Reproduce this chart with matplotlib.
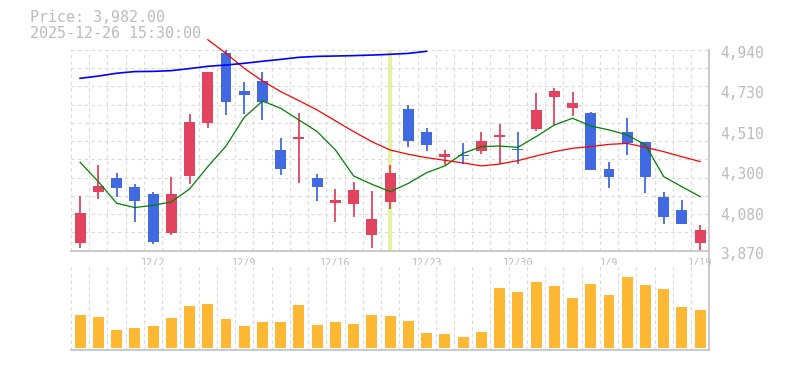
import matplotlib
matplotlib.use("Agg")
import matplotlib.pyplot as plt
import matplotlib.transforms as mtransforms
from matplotlib.lines import Line2D
import numpy as np

# daily candles (trading days 11/26 .. 1/19)
dates = ['11/26', '11/27', '11/28', '12/1', '12/2', '12/3', '12/4', '12/5', '12/8',
         '12/9', '12/10', '12/11', '12/12', '12/15', '12/16', '12/17', '12/18',
         '12/19', '12/22', '12/23', '12/24', '12/25', '12/26', '12/29', '12/30',
         '1/5', '1/6', '1/7', '1/8', '1/9', '1/13', '1/14', '1/15', '1/16', '1/19']
label_idx = [4, 9, 14, 19, 24, 29, 34]

opens = [3913, 4185, 4259, 4211, 4172, 3966, 4270, 4553, 4924, 4721, 4775, 4407,
         4466, 4258, 4126, 4121, 3956, 4132, 4626, 4503, 4371, 4380, 4403, 4476,
         4410, 4519, 4691, 4633, 4604, 4306, 4503, 4450, 4156, 4087, 3913]
highs = [4163, 4327, 4284, 4226, 4183, 4265, 4599, 4823, 4940, 4769, 4823, 4471,
         4604, 4279, 4199, 4236, 4188, 4327, 4649, 4524, 4407, 4442, 4503, 4546,
         4503, 4713, 4739, 4716, 4610, 4343, 4578, 4450, 4183, 4140, 4007]
lows = [3886, 4146, 4158, 4025, 3904, 3954, 4226, 4524, 4594, 4601, 4567, 4275,
        4233, 4137, 4025, 4052, 3886, 4094, 4425, 4403, 4327, 4331, 4387, 4332,
        4332, 4510, 4540, 4586, 4302, 4206, 4382, 4179, 4014, 4014, 3874]
closes = [4071, 4217, 4206, 4137, 3918, 4172, 4556, 4823, 4665, 4702, 4665, 4307,
          4476, 4211, 4140, 4194, 4039, 4284, 4457, 4435, 4386, 4373, 4455, 4487,
          4406, 4620, 4721, 4657, 4302, 4265, 4444, 4265, 4052, 4014, 3982]

volumes = [98, 92, 53, 59, 65, 89, 125, 131, 86, 65, 77, 77, 128, 68, 77, 71, 98,
           95, 80, 44, 41, 32, 47, 179, 167, 197, 185, 149, 191, 158, 212, 188,
           176, 122, 113]
volumes = [v * 1000 for v in volumes]

# moving averages
ma_short = [4341, 4238, 4123, 4100, 4112, 4130, 4199, 4318, 4428, 4581, 4668, 4629,
            4567, 4505, 4407, 4268, 4224, 4185, 4229, 4286, 4322, 4389, 4425, 4428,
            4421, 4478, 4540, 4576, 4535, 4514, 4487, 4434, 4265, 4211, 4158]
ma_mid_start = 7
ma_mid = [4995, 4922, 4842, 4775, 4718, 4670, 4620, 4562, 4505, 4451, 4407, 4384,
          4366, 4352, 4338, 4322, 4332, 4350, 4375, 4398, 4416, 4425, 4437, 4442,
          4421, 4398, 4371, 4345]
ma_long = [4789, 4801, 4816, 4825, 4826, 4830, 4841, 4853, 4860, 4869, 4880, 4890,
           4901, 4906, 4908, 4910, 4913, 4917, 4922, 4933]

price_ticks = [3870, 4080, 4300, 4510, 4730, 4940]
cursor_idx = 17

UP = '#e2435f'
DOWN = '#4169e1'
GRID = '#d9d9d9'
AXIS = '#c0c0c0'
TXT = '#bbbbbb'
FONT = 'DejaVu Sans Mono'

W, H = 785, 370
fig = plt.figure(figsize=(W / 100, H / 100), dpi=100)
left, right = 71 / W, 709.3 / W
ax = fig.add_axes([left, 1 - 250.7 / H, right - left, (250.7 - 50) / H])
axv = fig.add_axes([left, 1 - 350 / H, right - left, (350 - 265) / H])

n = len(opens)
x = np.arange(n)
ymin, ymax = 3870, 4940

# price panel
ax.set_xlim(-0.5, n - 0.5)
ax.set_ylim(ymin, ymax)
for k in range(n + 1):
    ax.axvline(k - 0.5, color=GRID, lw=0.8, ls=(0, (3, 3)), zorder=0)
for k in range(12):
    ax.axhline(ymin + k * (ymax - ymin) / 11, color=GRID, lw=0.8, ls=(0, (3, 3)), zorder=0)

ax.axvline(cursor_idx, color='#e3f2a6', lw=3, zorder=1, ymax=0.995)

for i in range(n):
    o, h, l, c = opens[i], highs[i], lows[i], closes[i]
    col = UP if c >= o else DOWN
    ax.vlines(i, l, h, color=col, lw=1.3, zorder=3)
    bot = min(o, c)
    hgt = max(abs(c - o), 6)
    ax.bar(i, hgt, bottom=bot, width=0.6, color=col, zorder=4)

ax.plot(x, ma_short, color='#008000', lw=0.9, zorder=5)
ax.plot(x[ma_mid_start:ma_mid_start + len(ma_mid)], ma_mid, color='#ff0000', lw=0.9,
        zorder=5, clip_on=False)
ax.plot(x[:len(ma_long)], ma_long, color='#0000ff', lw=1.2, zorder=5, clip_on=False)

for s in ['top', 'left', 'right']:
    ax.spines[s].set_visible(False)
ax.spines['bottom'].set_color(AXIS)
ax.spines['bottom'].set_linewidth(1.2)

ax.yaxis.tick_right()
ax.set_yticks(price_ticks)
ax.set_yticklabels([f'{t:,}' for t in price_ticks], fontsize=10.5, color=TXT, family=FONT)
ax.tick_params(axis='y', length=0, pad=8)
offset = mtransforms.ScaledTranslation(0, -2.5 / 100, fig.dpi_scale_trans)
for lab in ax.get_yticklabels():
    lab.set_transform(lab.get_transform() + offset)

ax.set_xticks(label_idx)
ax.set_xticklabels([dates[i] for i in label_idx], fontsize=7.3, color=TXT, family=FONT)
ax.tick_params(axis='x', length=0, pad=5)

# volume panel
axv.set_xlim(-0.5, n - 0.5)
vmax = max(volumes)
axv.set_ylim(-0.0325 * vmax, 1.17 * vmax)
for k in range(n + 1):
    axv.axvline(k - 0.5, color=GRID, lw=0.8, ls=(0, (3, 3)), zorder=0)
axv.bar(x, volumes, width=0.6, color='#ffb833', zorder=3)
for s in ['top', 'left', 'right']:
    axv.spines[s].set_visible(False)
axv.spines['bottom'].set_color(AXIS)
axv.spines['bottom'].set_linewidth(1.2)
axv.set_xticks([])
axv.set_yticks([])

# right border running through both panels
fig.add_artist(Line2D([right, right], [1 - 350 / H, 1 - 50 / H], color=AXIS, lw=1.2))

fig.text(30 / W, 1 - 17 / H, 'Price: 3,982.00', fontsize=10.8, color=TXT,
         family=FONT, va='center')
fig.text(30 / W, 1 - 33 / H, '2025-12-26 15:30:00', fontsize=10.8, color=TXT,
         family=FONT, va='center')

fig.savefig('out.png', dpi=100)
